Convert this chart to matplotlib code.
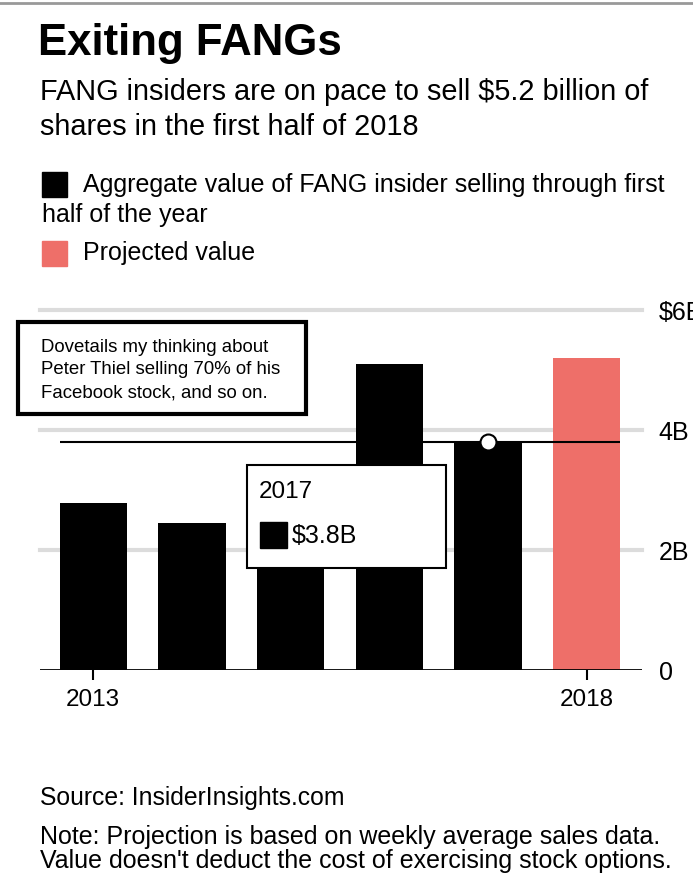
import matplotlib.pyplot as plt
from matplotlib.patches import Rectangle

plt.rcParams['font.family'] = ['Liberation Sans', 'DejaVu Sans']

# data, billions of dollars of insider selling in the first half of each year
years = [2013, 2014, 2015, 2016, 2017, 2018]
values = [2.78, 2.45, 2.9, 5.1, 3.8, 5.2]
projected = [False, False, False, False, False, True]
yticks = [0, 2, 4, 6]
ytick_labels = ['0', '2B', '4B', '$6B']
hover = 4  # the year shown in the tooltip

BLACK = '#000000'
RED = '#ee6f69'
GRID = '#dcdcdc'

W, H = 693, 882
fig = plt.figure(figsize=(W / 100, H / 100), dpi=100)

def fx(x):
    return x / W

def fy(y):
    return 1 - y / H

#%%
# header
fig.add_artist(plt.Line2D([0, 1], [fy(3), fy(3)], color='#999999', lw=2))
fig.text(fx(38), fy(44), 'Exiting FANGs', fontsize=31.5, fontweight='bold', va='center')
fig.text(fx(40), fy(92), 'FANG insiders are on pace to sell $5.2 billion of',
         fontsize=20.8, va='center')
fig.text(fx(40), fy(127), 'shares in the first half of 2018', fontsize=20.8, va='center')

# legend
fig.add_artist(Rectangle((fx(42), fy(197)), fx(25), 25 / H, color=BLACK))
fig.text(fx(83), fy(185), 'Aggregate value of FANG insider selling through first',
         fontsize=18, va='center')
fig.text(fx(42), fy(215), 'half of the year', fontsize=18, va='center')
fig.add_artist(Rectangle((fx(42), fy(266)), fx(25), 25 / H, color=RED))
fig.text(fx(83), fy(253), 'Projected value', fontsize=18, va='center')

#%%
# chart
ax = fig.add_axes([fx(40), fy(670), fx(602), (670 - 310) / H])
x = list(range(len(years)))
width = 0.68
colors = [RED if p else BLACK for p in projected]
ax.bar(x, values, width=width, color=colors, zorder=2)
ax.set_xlim(-0.54, len(years) - 0.44)
ax.set_ylim(0, 6)

for t in yticks[1:]:
    ax.axhline(t, color=GRID, lw=3, zorder=1, clip_on=False)
ax.axhline(0, color=BLACK, lw=2, zorder=3)

ax.hlines(values[hover], -width / 2, len(years) - 1 + width / 2, color=BLACK, lw=1.5, zorder=4)
ax.plot(hover, values[hover], 'o', ms=11.5, mfc='white', mec=BLACK, mew=1.5, zorder=5,
        clip_on=False)

for s in ax.spines.values():
    s.set_visible(False)
ax.yaxis.tick_right()
ax.set_yticks(yticks)
ax.set_yticklabels(ytick_labels)
ax.tick_params(axis='y', length=0, pad=12, labelsize=18)
ax.set_xticks([0, len(years) - 1])
ax.set_xticklabels([str(years[0]), str(years[-1])])
ax.tick_params(axis='x', length=7, width=1.5, pad=7, labelsize=17.5, direction='out')

#%%
# tooltip
fig.add_artist(Rectangle((fx(247), fy(568)), fx(199), 103 / H, facecolor='white',
                         edgecolor=BLACK, lw=1.5, zorder=10))
fig.text(fx(259), fy(492), str(years[hover]), fontsize=17.5, va='center', zorder=11)
fig.add_artist(Rectangle((fx(260), fy(548)), fx(27), 26 / H, color=BLACK, zorder=11))
fig.text(fx(292), fy(536), '$%.1fB' % values[hover], fontsize=18, va='center', zorder=11)

# annotation box
fig.add_artist(Rectangle((fx(18), fy(414)), fx(288), 92 / H, facecolor='white',
                         edgecolor=BLACK, lw=3, zorder=10))
fig.text(fx(41), fy(348), 'Dovetails my thinking about', fontsize=13.4, va='center', zorder=11)
fig.text(fx(41), fy(370), 'Peter Thiel selling 70% of his', fontsize=13.4, va='center', zorder=11)
fig.text(fx(41), fy(393), 'Facebook stock, and so on.', fontsize=13.4, va='center', zorder=11)

#%%
# footer
fig.text(fx(40), fy(798), 'Source: InsiderInsights.com', fontsize=17.8, va='center')
fig.text(fx(40), fy(837), 'Note: Projection is based on weekly average sales data.',
         fontsize=18, va='center')
fig.text(fx(40), fy(861), "Value doesn't deduct the cost of exercising stock options.",
         fontsize=18, va='center')

fig.savefig('out.png', dpi=100)
